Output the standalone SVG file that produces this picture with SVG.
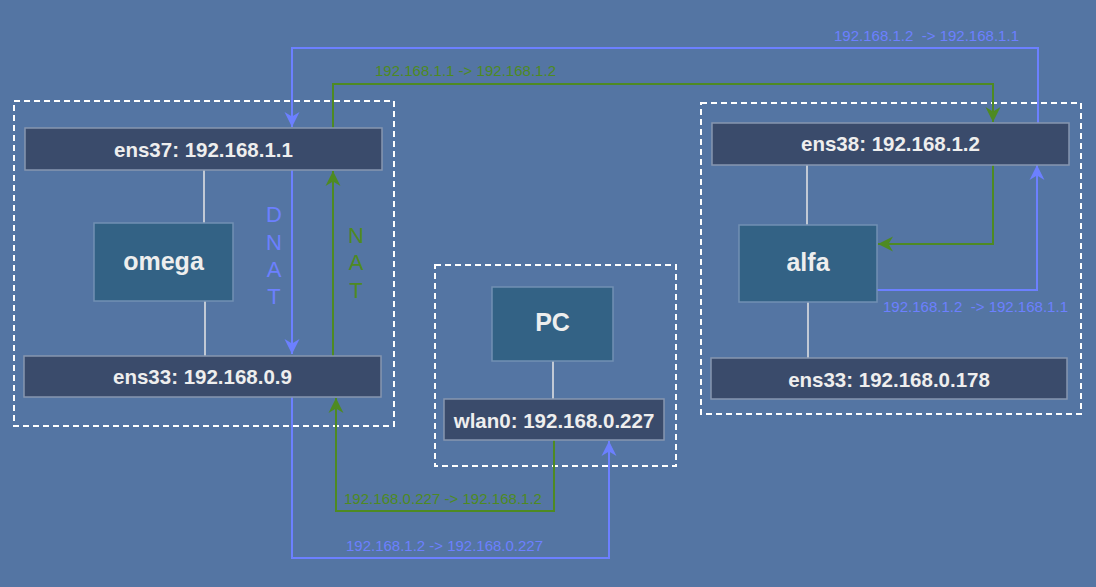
<svg xmlns="http://www.w3.org/2000/svg" width="1096" height="587" viewBox="0 0 1096 587">
<defs>
<style>
.bg{fill:#5475a3}
.grp{fill:none;stroke:#ffffff;stroke-width:2;stroke-dasharray:6 4}
.iface{fill:#3a4b6b;stroke:#8796b0;stroke-width:1.5}
.host{fill:#336285;stroke:#7290b4;stroke-width:1.5}
.t{font-family:"Liberation Sans",Arial,sans-serif;font-weight:bold;fill:#eeeeee;text-anchor:middle}
.ti{font-size:20.5px}
.th{font-size:25px}
.link{fill:none;stroke:#e6e6e6;stroke-width:1.5}
.blue{fill:none;stroke:#6c80ff;stroke-width:2}
.green{fill:none;stroke:#4e8a22;stroke-width:2}
.lb{font-family:"Liberation Sans",Arial,sans-serif;font-size:15px;fill:#6c80ff}
.lg{font-family:"Liberation Sans",Arial,sans-serif;font-size:15px;fill:#4e8a22}
.vb{font-family:"Liberation Sans",Arial,sans-serif;font-size:22px;fill:#6c80ff;text-anchor:middle}
.vg{font-family:"Liberation Sans",Arial,sans-serif;font-size:22px;fill:#4e8a22;text-anchor:middle}
</style>
<marker id="ab" markerWidth="16" markerHeight="16" viewBox="-15 -8 16 16" refX="0" refY="0" orient="auto" markerUnits="userSpaceOnUse">
<path d="M0,0 L-15,-7.5 L-10.5,0 L-15,7.5 Z" fill="#6c80ff"/>
</marker>
<marker id="ag" markerWidth="16" markerHeight="16" viewBox="-15 -8 16 16" refX="0" refY="0" orient="auto" markerUnits="userSpaceOnUse">
<path d="M0,0 L-15,-7.5 L-10.5,0 L-15,7.5 Z" fill="#4e8a22"/>
</marker>
</defs>
<rect class="bg" x="0" y="0" width="1096" height="587"/>

<g id="omega-group">
<rect class="grp" x="14" y="101" width="380" height="325"/>
</g>
<g id="pc-group">
<rect class="grp" x="435" y="265" width="241" height="201"/>
</g>
<g id="alfa-group">
<rect class="grp" x="701" y="103" width="380" height="311"/>
</g>

<g id="connectors">
<path class="link" d="M204,170 V223"/>
<path class="link" d="M205,301 V356"/>
<path class="link" d="M807,165 V225"/>
<path class="link" d="M808,302 V358"/>
<path class="link" d="M553,361 V399"/>

<path class="blue" d="M1038,123 V48 H292 V127" marker-end="url(#ab)"/>
<path class="blue" d="M292,170 V354" marker-end="url(#ab)"/>
<path class="blue" d="M292,397 V558 H609 V441" marker-end="url(#ab)"/>
<path class="blue" d="M877,290 H1037 V165" marker-end="url(#ab)"/>

<path class="green" d="M333,128 V84 H993 V122" marker-end="url(#ag)"/>
<path class="green" d="M993,165 V244 H878" marker-end="url(#ag)"/>
<path class="green" d="M333,356 V171" marker-end="url(#ag)"/>
<path class="green" d="M554,440 V511 H336 V398" marker-end="url(#ag)"/>

<text class="lb" x="834" y="41" textLength="185" lengthAdjust="spacingAndGlyphs" xml:space="preserve">192.168.1.2  -&gt; 192.168.1.1</text>
<text class="lg" x="375" y="76" textLength="181" lengthAdjust="spacingAndGlyphs">192.168.1.1 -&gt; 192.168.1.2</text>
<text class="lb" x="883" y="312" textLength="185" lengthAdjust="spacingAndGlyphs" xml:space="preserve">192.168.1.2  -&gt; 192.168.1.1</text>
<text class="lg" x="344" y="504" textLength="198" lengthAdjust="spacingAndGlyphs">192.168.0.227 -&gt; 192.168.1.2</text>
<text class="lb" x="346" y="551" textLength="197" lengthAdjust="spacingAndGlyphs">192.168.1.2 -&gt; 192.168.0.227</text>

<text class="vb" x="274" y="222">D</text>
<text class="vb" x="274" y="250">N</text>
<text class="vb" x="274" y="277">A</text>
<text class="vb" x="274" y="304">T</text>
<text class="vg" x="356" y="243">N</text>
<text class="vg" x="356" y="270">A</text>
<text class="vg" x="356" y="298">T</text>
</g>

<g id="omega-ens37">
<rect class="iface" x="25" y="128" width="357" height="42"/>
<text class="t ti" x="203.5" y="157">ens37: 192.168.1.1</text>
</g>
<g id="omega">
<rect class="host" x="94" y="223" width="139" height="78"/>
<text class="t th" x="163.5" y="270">omega</text>
</g>
<g id="omega-ens33">
<rect class="iface" x="24" y="356" width="357" height="41"/>
<text class="t ti" x="202.5" y="384">ens33: 192.168.0.9</text>
</g>

<g id="pc">
<rect class="host" x="492" y="287" width="121" height="74"/>
<text class="t th" x="552.5" y="331">PC</text>
</g>
<g id="pc-wlan0">
<rect class="iface" x="444" y="399" width="220" height="41"/>
<text class="t ti" x="554" y="428">wlan0: 192.168.0.227</text>
</g>

<g id="alfa-ens38">
<rect class="iface" x="712" y="123" width="357" height="42"/>
<text class="t ti" x="890.5" y="151">ens38: 192.168.1.2</text>
</g>
<g id="alfa">
<rect class="host" x="739" y="225" width="138" height="77"/>
<text class="t th" x="808" y="271">alfa</text>
</g>
<g id="alfa-ens33">
<rect class="iface" x="711" y="358" width="356" height="41"/>
<text class="t ti" x="889" y="387">ens33: 192.168.0.178</text>
</g>
</svg>
